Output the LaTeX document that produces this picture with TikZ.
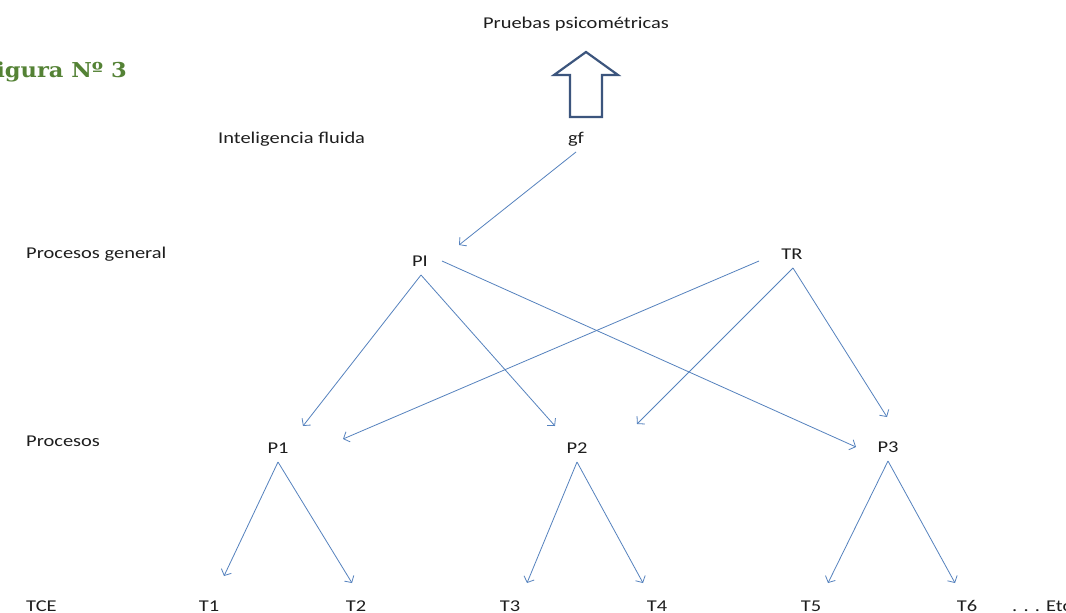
\documentclass[tikz,border=0pt]{standalone}
\usepackage{fontspec}
\setmainfont{Carlito}[FakeStretch=1.24]
\newfontfamily\titlefont{DejaVu Serif}[FakeStretch=1.10]
\usetikzlibrary{arrows.meta}
\definecolor{linkblue}{RGB}{85,130,190}
\definecolor{titlegreen}{RGB}{84,130,53}
\definecolor{txtgray}{RGB}{30,30,30}
\definecolor{blockblue}{RGB}{60,85,125}
\tikzset{
  lbl/.style={anchor=base, inner sep=0pt, text=txtgray, font=\fontsize{16.5}{18}\selectfont},
  rowlbl/.style={lbl, anchor=base west},
  link/.style={draw=linkblue, line width=0.8pt, -{Straight Barb[length=5pt,width=11pt,line width=0.8pt]}},
}
\begin{document}
\begin{tikzpicture}[x=1pt,y=-1pt]
\useasboundingbox (0,0) rectangle (1066,613);
\fill[white] (0,0) rectangle (1066,613);

% title
\node[anchor=base east, inner sep=0pt, text=titlegreen, font=\titlefont\bfseries\fontsize{20.5}{22}\selectfont] (title) at (127,77) {Figura Nº 3};

% top label and hollow block arrow
\node[lbl] (tests) at (576,28) {Pruebas psicométricas};
\draw[blockblue, line width=2.2pt, line join=miter]
  (586,52) -- (618,75) -- (602,75) -- (602,117) -- (570,117) -- (570,75) -- (554,75) -- cycle;

% row labels
\node[rowlbl] (rowgf) at (218,143) {Inteligencia fluida};
\node[rowlbl] (rowgen) at (26,258) {Procesos general};
\node[rowlbl] (rowproc) at (26,446) {Procesos};
\node[rowlbl] (rowtce) at (26,611) {TCE};

% nodes
\node[lbl] (gf) at (576,143) {gf};
\node[lbl] (PI) at (420,266) {PI};
\node[lbl] (TR) at (792,259) {TR};
\node[lbl] (P1) at (278,453) {P1};
\node[lbl] (P2) at (577,453) {P2};
\node[lbl] (P3) at (888,452) {P3};
\node[lbl] (T1) at (209,611) {T1};
\node[lbl] (T2) at (356,611) {T2};
\node[lbl] (T3) at (510,611) {T3};
\node[lbl] (T4) at (657,611) {T4};
\node[lbl] (T5) at (811,611) {T5};
\node[lbl] (T6) at (967,611) {T6};
\node[lbl, anchor=base west] (etc) at (1012,611) {. . . Etc};

% connectors
\draw[link] ([shift={(0,9)}]gf.base) -- ([shift={(39,-21)}]PI.base);

\draw[link] ([shift={(1,9)}]PI.base) -- ([shift={(25,-27)}]P1.base);
\draw[link] ([shift={(1,9)}]PI.base) -- ([shift={(-22,-27)}]P2.base);
\draw[link] ([shift={(22,-5)}]PI.base) -- ([shift={(-32,-5)}]P3.base);

\draw[link] ([shift={(-33,2)}]TR.base) -- ([shift={(65,-14)}]P1.base);
\draw[link] ([shift={(1,9)}]TR.base) -- ([shift={(60,-29)}]P2.base);
\draw[link] ([shift={(1,9)}]TR.base) -- ([shift={(-1,-35)}]P3.base);

\draw[link] ([shift={(0,9)}]P1.base) -- ([shift={(15,-35)}]T1.base);
\draw[link] ([shift={(0,9)}]P1.base) -- ([shift={(-4,-28)}]T2.base);
\draw[link] ([shift={(0,9)}]P2.base) -- ([shift={(17,-28)}]T3.base);
\draw[link] ([shift={(0,9)}]P2.base) -- ([shift={(-14,-28)}]T4.base);
\draw[link] ([shift={(0,9)}]P3.base) -- ([shift={(17,-28)}]T5.base);
\draw[link] ([shift={(0,9)}]P3.base) -- ([shift={(-12,-28)}]T6.base);
\end{tikzpicture}
\end{document}
